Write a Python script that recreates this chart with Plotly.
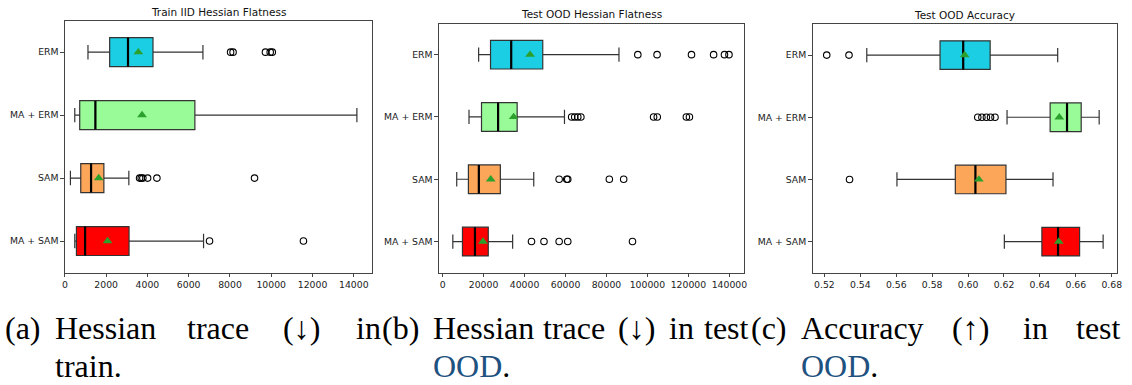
import plotly.graph_objects as go

# Methods shown on every panel (top to bottom)
methods = ["ERM", "MA + ERM", "SAM", "MA + SAM"]
positions = [4, 3, 2, 1]
fill_colors = ["#1ccee3", "#98fb98", "#fca65a", "#ff0000"]

# Panel 1: train IID Hessian trace
train_low = [1120, 480, 270, 480]
train_q1 = [2170, 720, 770, 560]
train_med = [3060, 1480, 1270, 980]
train_q3 = [4270, 6300, 1890, 3110]
train_high = [6690, 14150, 3100, 6720]
train_mean = [3560, 3740, 1640, 2070]
train_out = [[8030, 8150, 9720, 9950, 10050], [],
             [3620, 3700, 3780, 4010, 4460, 9190], [7010, 11560]]

# Panel 2: test OOD Hessian trace
ood_low = [17600, 12900, 6900, 5000]
ood_q1 = [23400, 19000, 12600, 9700]
ood_med = [33500, 27100, 17700, 15800]
ood_q3 = [48900, 36400, 28200, 22300]
ood_high = [86100, 59500, 44500, 34200]
ood_mean = [42700, 34700, 23500, 19700]
ood_out = [[95300, 104700, 121500, 132300, 137600, 139800],
           [63000, 64500, 66000, 67500, 103000, 104800, 119000, 120500],
           [56900, 60600, 61100, 81400, 88400],
           [43400, 49500, 56900, 61100, 92700]]

# Panel 3: test OOD accuracy
acc_low = [0.5436, 0.6217, 0.5604, 0.6202]
acc_q1 = [0.5844, 0.6457, 0.5929, 0.6411]
acc_med = [0.5973, 0.6551, 0.6041, 0.6501]
acc_q3 = [0.6123, 0.6630, 0.6211, 0.6621]
acc_high = [0.6499, 0.6730, 0.6473, 0.6752]
acc_mean = [0.5981, 0.6508, 0.6060, 0.6505]
acc_out = [[0.5213, 0.5337], [0.6054, 0.6077, 0.6102, 0.6125, 0.6150], [0.5340], []]

panel_titles = ["Train IID Hessian Flatness", "Test OOD Hessian Flatness", "Test OOD Accuracy"]

W, H = 1132, 385
BOX_W = 0.46

# plot-area pixel boxes: (left, right, top, bottom)
areas = [(62.3, 372, 20.7, 272.5), (439, 746, 23.5, 272.7), (815.3, 1121.7, 24, 272.7)]
x_ranges = [[0, 14900], [-1800, 147000], [0.5134, 0.6828]]
x_ticks = [list(range(0, 14001, 2000)), list(range(0, 140001, 20000)),
           [0.52, 0.54, 0.56, 0.58, 0.60, 0.62, 0.64, 0.66, 0.68]]
x_fmt = ["d", "d", ".2f"]

panels = [
    (train_low, train_q1, train_med, train_q3, train_high, train_mean, train_out),
    (ood_low, ood_q1, ood_med, ood_q3, ood_high, ood_mean, ood_out),
    (acc_low, acc_q1, acc_med, acc_q3, acc_high, acc_mean, acc_out),
]

fig = go.Figure()
EDGE = "#333333"

for p, (low, q1, med, q3, high, mean, outs) in enumerate(panels):
    xa = "x" if p == 0 else f"x{p+1}"
    ya = "y" if p == 0 else f"y{p+1}"
    for i, m in enumerate(methods):
        fig.add_trace(go.Box(
            y=[positions[i]], q1=[q1[i]], median=[med[i]], q3=[q3[i]],
            lowerfence=[low[i]], upperfence=[high[i]], orientation="h",
            width=BOX_W, whiskerwidth=0.5, fillcolor=fill_colors[i],
            line=dict(color=EDGE, width=1.2), boxpoints=False,
            xaxis=xa, yaxis=ya, showlegend=False, name=m))
        # thick black median line
        fig.add_trace(go.Scatter(
            x=[med[i], med[i]], y=[positions[i] - BOX_W / 2, positions[i] + BOX_W / 2],
            mode="lines", line=dict(color="black", width=2.2),
            xaxis=xa, yaxis=ya, showlegend=False, hoverinfo="skip"))
        if outs[i]:
            fig.add_trace(go.Scatter(
                x=outs[i], y=[positions[i]] * len(outs[i]), mode="markers",
                marker=dict(symbol="circle-open", size=6.5, color="black",
                            line=dict(width=1.1, color="black")),
                xaxis=xa, yaxis=ya, showlegend=False))
    fig.add_trace(go.Scatter(
        x=mean, y=positions, mode="markers",
        marker=dict(symbol="triangle-up", size=8.5, color="#2ca02c"),
        xaxis=xa, yaxis=ya, showlegend=False))

layout = dict(width=W, height=H, margin=dict(l=0, r=0, t=0, b=0),
              paper_bgcolor="white", plot_bgcolor="white", boxmode="overlay",
              font=dict(family="DejaVu Sans", size=9, color="#222222"))

tick_font = dict(family="DejaVu Sans", size=9.3, color="#222222")
for p, (l, r, t, b) in enumerate(areas):
    xk = "xaxis" if p == 0 else f"xaxis{p+1}"
    yk = "yaxis" if p == 0 else f"yaxis{p+1}"
    ya = "y" if p == 0 else f"y{p+1}"
    xa = "x" if p == 0 else f"x{p+1}"
    layout[xk] = dict(domain=[l / W, r / W], range=x_ranges[p], anchor=ya,
                      tickvals=x_ticks[p], tickformat=x_fmt[p], showgrid=False,
                      zeroline=False, showline=True, mirror=True, linecolor="#444444",
                      linewidth=1, ticks="outside", ticklen=3.5, tickcolor="#444444",
                      tickfont=tick_font)
    layout[yk] = dict(domain=[1 - b / H, 1 - t / H], range=[0.5, 4.5], anchor=xa,
                      tickvals=positions, ticktext=methods, showgrid=False,
                      zeroline=False, showline=True, mirror=True, linecolor="#444444",
                      linewidth=1, ticks="outside", ticklen=3.5, tickcolor="#444444",
                      tickfont=tick_font)

fig.update_layout(**layout)

# Panel titles
title_y = [11.7, 14.3, 15]
for p, (l, r, t, b) in enumerate(areas):
    fig.add_annotation(text=panel_titles[p], x=(l + r) / 2 / W, y=1 - title_y[p] / H,
                       xref="paper", yref="paper", showarrow=False, xanchor="center",
                       yanchor="middle", font=dict(family="DejaVu Sans", size=10.5, color="#111111"))

# Sub-figure captions (justified words placed individually)
cap_font = dict(family="Liberation Serif", size=32, color="black")
OOD_BLUE = "#1f5280"
line1 = [("(a)", 0), ("Hessian", 50), ("trace", 183), ("(↓)", 280), ("in", 354),
         ("(b)", 380), ("Hessian", 431), ("trace", 542), ("(↓)", 617), ("in", 669),
         ("test", 704), ("(c)", 751), ("Accuracy", 802), ("(↑)", 954), ("in", 1025),
         ("test", 1079)]
for word, x in line1:
    fig.add_annotation(text=word, x=x / W, y=1 - 328 / H, xref="paper", yref="paper",
                       showarrow=False, xanchor="left", yanchor="middle", font=cap_font)

fig.add_annotation(text="train.", x=50 / W, y=1 - 366 / H, xref="paper", yref="paper",
                   showarrow=False, xanchor="left", yanchor="middle", font=cap_font)
for x in (431, 802):
    fig.add_annotation(text=f"<span style='color:{OOD_BLUE}'>OOD</span>.", x=x / W,
                       y=1 - 366 / H, xref="paper", yref="paper", showarrow=False,
                       xanchor="left", yanchor="middle", font=cap_font)

fig.write_html("out.html")
